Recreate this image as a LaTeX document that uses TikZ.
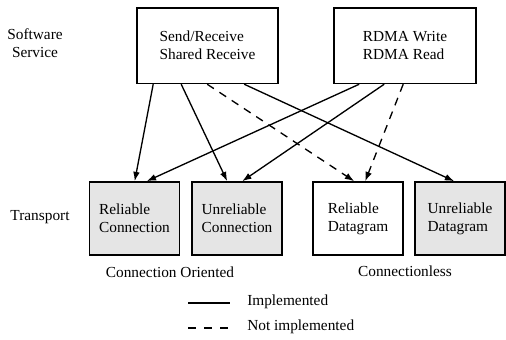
\documentclass[tikz,border=0pt]{standalone}
\usepackage{fontspec}
\setmainfont{Liberation Serif}
\usetikzlibrary{arrows.meta,calc}
\begin{document}
\begin{tikzpicture}[x=0.75pt,y=-0.75pt,
  every node/.style={font=\fontsize{11.5}{13.5}\selectfont, inner sep=0pt},
  svcbox/.style={draw, line width=1.2pt, align=left, minimum height=56.5pt},
  trbox/.style={draw, line width=1.2pt, align=left, minimum width=67.5pt, minimum height=54.75pt},
  grayfill/.style={fill=black!10},
  conn/.style={line width=1pt, -{Latex[length=7pt,width=5pt]}},
  notimpl/.style={dash pattern=on 6pt off 5pt},
  lbl/.style={align=center}]
\useasboundingbox (0,0) rectangle (506,339);
% service boxes
\node[svcbox, minimum width=105.75pt] (b1) at (207.5,45.75) {Send/Receive\\Shared Receive};
\node[svcbox, minimum width=106.5pt] (b2) at (405,45.75) {RDMA Write\\RDMA Read};
% transport boxes
\node[trbox, grayfill] (rc) at (134.5,218.5) {Reliable\\Connection};
\node[trbox, grayfill] (uc) at (237,218.5) {Unreliable\\Connection};
\node[trbox] (rd) at (358,218.5) {Reliable\\Datagram};
\node[trbox, grayfill] (ud) at (460,218.5) {Unreliable\\Datagram};
% side labels
\node[lbl] (sw) at (35,43) {Software\\Service};
\node[lbl] (tp) at (40,217) {Transport};
\node (co) at (170,272) {Connection Oriented};
\node (cl) at (405,271) {Connectionless};
% connectors
\draw[conn] ($(b1.south west)+(17,0)$) -- ($(rc.north west)+(46,0)$);
\draw[conn] ($(b1.south west)+(45,0)$) -- ($(uc.north west)+(36,0)$);
\draw[conn,notimpl] ($(b1.south west)+(71,0)$) -- ($(rd.north west)+(42,0)$);
\draw[conn] ($(b1.south west)+(108,0)$) -- ($(ud.north west)+(40,0)$);
\draw[conn] ($(b2.south west)+(26,0)$) -- ($(rc.north west)+(58,0)$);
\draw[conn] ($(b2.south west)+(51,0)$) -- ($(uc.north west)+(51,0)$);
\draw[conn,notimpl] ($(b2.south west)+(70,0)$) -- ($(rd.north west)+(53,0)$);
% legend
\coordinate (l1a) at (188,303);
\coordinate (l1b) at (230,303);
\coordinate (l2a) at (188,328);
\coordinate (l2b) at (230,328);
\draw[line width=1pt] (l1a) -- (l1b);
\draw[line width=1pt, dash pattern=on 6pt off 6pt] (l2a) -- (l2b);
\node[anchor=west] (li) at (247,302) {Implemented};
\node[anchor=west] (ln) at (247,327) {Not implemented};
\end{tikzpicture}
\end{document}
